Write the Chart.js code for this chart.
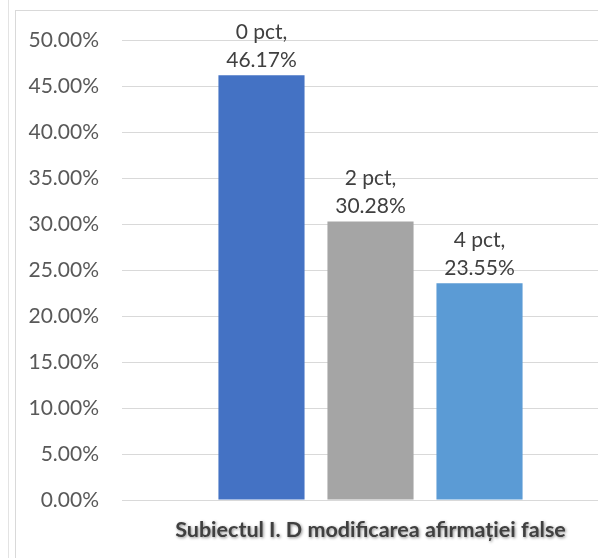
<!DOCTYPE html>
<html>
<head>
<meta charset="utf-8">
<script src="https://cdn.jsdelivr.net/npm/chart.js@4"></script>
<style>
  html, body { margin: 0; padding: 0; background: #fff; overflow: hidden; }
  #wrap { position: relative; width: 598px; height: 558px; overflow: hidden; }
  #linia { position: absolute; left: 8px; top: 0; width: 1px; height: 558px; background: #e3e3e3; }
  #rama { position: absolute; left: 15px; top: 10px; width: 700px; height: 700px;
          border-left: 1px solid #d9d9d9; border-top: 1px solid #d9d9d9; }
  #cont { position: absolute; left: 0; top: 0; width: 660px; height: 558px; }
</style>
</head>
<body>
<div id="wrap">
  <div id="linia"></div>
  <div id="rama"></div>
  <div id="cont"><canvas id="grafic"></canvas></div>
</div>
<script>
// DATE
const categorii = ['Subiectul I. D modificarea afirmației false'];
const serii = ['0 pct', '2 pct', '4 pct'];
const valori = [46.17, 30.28, 23.55];
const culori = ['#4472C4', '#A5A5A5', '#5B9BD5'];

const font = 'Lato';

// etichete deasupra barelor
const eticheteBare = {
  id: 'eticheteBare',
  afterDatasetsDraw(chart) {
    const ctx = chart.ctx;
    ctx.save();
    ctx.font = '21px ' + font;
    ctx.fillStyle = '#404040';
    ctx.textAlign = 'center';
    ctx.textBaseline = 'alphabetic';
    chart.data.datasets.forEach((ds, i) => {
      const bar = chart.getDatasetMeta(i).data[0];
      const v = ds.data[0];
      ctx.fillText(v.toFixed(2) + '%', bar.x, bar.y - 8);
      ctx.fillText(ds.label + ',', bar.x, bar.y - 36);
    });
    ctx.restore();
  }
};

// eticheta categoriei cu umbra
const titluAxa = {
  id: 'titluAxa',
  afterDraw(chart) {
    const ctx = chart.ctx;
    const x = chart.scales.x;
    ctx.save();
    ctx.font = 'bold 21.5px ' + font;
    ctx.fillStyle = '#404040';
    ctx.textAlign = 'center';
    ctx.textBaseline = 'middle';
    ctx.shadowColor = 'rgba(0,0,0,0.45)';
    ctx.shadowBlur = 3;
    ctx.shadowOffsetX = 1;
    ctx.shadowOffsetY = 1;
    ctx.fillText(chart.data.labels[0], x.getPixelForValue(0), chart.chartArea.bottom + 30);
    ctx.restore();
  }
};

const ctx = document.getElementById('grafic').getContext('2d');
const grafic = new Chart(ctx, {
  type: 'bar',
  data: {
    labels: categorii,
    datasets: serii.map((s, i) => ({
      label: s,
      data: [valori[i]],
      backgroundColor: culori[i],
      borderWidth: 0
    }))
  },
  options: {
    responsive: true,
    maintainAspectRatio: false,
    animation: false,
    categoryPercentage: 0.658,
    barPercentage: 0.79,
    layout: { padding: { top: 40, right: 41, left: 0, bottom: 0 } },
    plugins: {
      legend: { display: false },
      tooltip: { enabled: false }
    },
    scales: {
      x: {
        grid: { display: false },
        border: { display: false },
        ticks: { display: false },
        afterFit: (s) => { s.height = 58; }
      },
      y: {
        min: 0,
        max: 50,
        grid: { color: '#d9d9d9', lineWidth: 1, drawTicks: false },
        border: { display: false },
        ticks: {
          stepSize: 5,
          padding: 23,
          color: '#595959',
          font: { family: font, size: 21 },
          callback: (v) => v.toFixed(2) + '%'
        },
        afterFit: (s) => { s.width = 122; }
      }
    }
  },
  plugins: [eticheteBare, titluAxa]
});
</script>
</body>
</html>
